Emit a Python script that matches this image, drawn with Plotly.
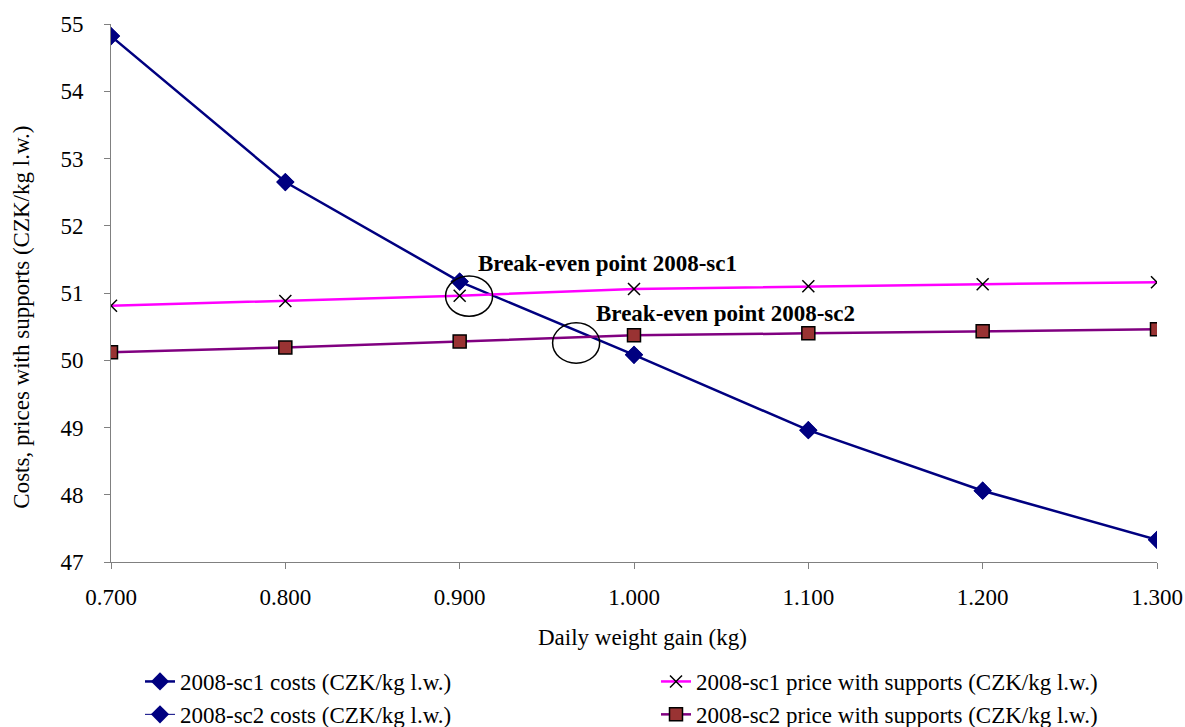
import plotly.graph_objects as go

gain = [0.7, 0.8, 0.9, 1.0, 1.1, 1.2, 1.3]
sc1_costs = [54.82, 52.65, 51.17, 50.08, 48.96, 48.06, 47.33]
sc2_costs = [54.82, 52.65, 51.17, 50.08, 48.96, 48.06, 47.33]
sc1_price = [50.81, 50.88, 50.96, 51.06, 51.10, 51.13, 51.16]
sc2_price = [50.12, 50.19, 50.28, 50.37, 50.40, 50.43, 50.46]

x_title = "Daily weight gain (kg)"
y_title = "Costs, prices with supports (CZK/kg l.w.)"
names = ["2008-sc1 costs (CZK/kg l.w.)",
         "2008-sc1 price with supports (CZK/kg l.w.)",
         "2008-sc2 costs (CZK/kg l.w.)",
         "2008-sc2 price with supports (CZK/kg l.w.)"]
notes = ["Break-even point 2008-sc1", "Break-even point 2008-sc2"]
note_pos = [(0.9094, 51.44), (0.9771, 50.70)]
circles = [(0.9054, 50.954), (0.9668, 50.256)]

FONT = "Liberation Serif, Times New Roman, serif"
W, H = 1185, 727
L, R, T, B = 111, 28, 24, 165

fig = go.Figure()
fig.add_trace(go.Scatter(x=gain, y=sc2_costs, name=names[2], mode="lines+markers",
                         legend="legend", legendrank=2,
                         line=dict(color="#000080", width=1),
                         marker=dict(symbol="diamond", size=14, color="#000080")))
fig.add_trace(go.Scatter(x=gain, y=sc1_costs, name=names[0], mode="lines+markers",
                         legend="legend", legendrank=1,
                         line=dict(color="#000080", width=2.5),
                         marker=dict(symbol="diamond", size=14, color="#000080")))
fig.add_trace(go.Scatter(x=gain, y=sc1_price, name=names[1], mode="lines+markers",
                         legend="legend2", legendrank=1,
                         line=dict(color="#FF00FF", width=2.5),
                         marker=dict(symbol="x-thin", size=12, color="black",
                                     line=dict(color="black", width=1.5))))
fig.add_trace(go.Scatter(x=gain, y=sc2_price, name=names[3], mode="lines+markers",
                         legend="legend2", legendrank=2,
                         line=dict(color="#800080", width=2.5),
                         marker=dict(symbol="square", size=13, color="#993333",
                                     line=dict(color="black", width=1.5))))

hw, hh = 0.0135, 0.30
for cx, cy in circles:
    fig.add_shape(type="circle", xref="x", yref="y",
                  x0=cx - hw, x1=cx + hw, y0=cy - hh, y1=cy + hh,
                  line=dict(color="black", width=1.5))

for (nx, ny), txt in zip(note_pos, notes):
    fig.add_annotation(x=nx, y=ny, xref="x", yref="y", text="<b>%s</b>" % txt,
                       showarrow=False, xanchor="left", yanchor="middle",
                       font=dict(family=FONT, size=23, color="black"))

pw = W - L - R
ph = H - T - B
fig.add_annotation(x=(21.7 - L) / pw, y=(H - B - 317) / ph, xref="paper", yref="paper",
                   text=y_title, textangle=-90, showarrow=False,
                   xanchor="center", yanchor="middle",
                   font=dict(family=FONT, size=23, color="black"))
fig.add_annotation(x=(642 - L) / pw, y=-(637 - (H - B)) / ph, xref="paper", yref="paper",
                   text=x_title, showarrow=False, xanchor="center", yanchor="middle",
                   font=dict(family=FONT, size=23, color="black"))

leg_common = dict(orientation="v", xref="container", yref="container",
                  xanchor="left", yanchor="top", tracegroupgap=0, itemwidth=30,
                  traceorder="normal",
                  font=dict(family=FONT, size=23, color="black"),
                  bgcolor="rgba(0,0,0,0)")

fig.update_layout(
    width=W, height=H,
    margin=dict(l=L, r=R, t=T, b=B, pad=0, autoexpand=False),
    paper_bgcolor="white", plot_bgcolor="white",
    font=dict(family=FONT, size=23, color="black"),
    showlegend=True,
    legend=dict(x=140 / W, y=1 - 660 / H, **leg_common),
    legend2=dict(x=656 / W, y=1 - 660 / H, **leg_common),
    xaxis=dict(range=[0.7, 1.3], tickmode="linear", tick0=0.7, dtick=0.1,
               tickformat=".3f", showgrid=False, zeroline=False,
               showline=True, linecolor="#808080", linewidth=1,
               ticks="outside", ticklen=6, tickcolor="#808080",
               ticklabelstandoff=8,
               tickfont=dict(family=FONT, size=23, color="black")),
    yaxis=dict(range=[47, 55], tickmode="linear", tick0=47, dtick=1,
               showgrid=False, zeroline=False,
               showline=True, linecolor="#808080", linewidth=1,
               ticks="outside", ticklen=6, tickcolor="#808080",
               ticklabelstandoff=16,
               tickfont=dict(family=FONT, size=23, color="black")),
)

fig.write_html("out.html")
